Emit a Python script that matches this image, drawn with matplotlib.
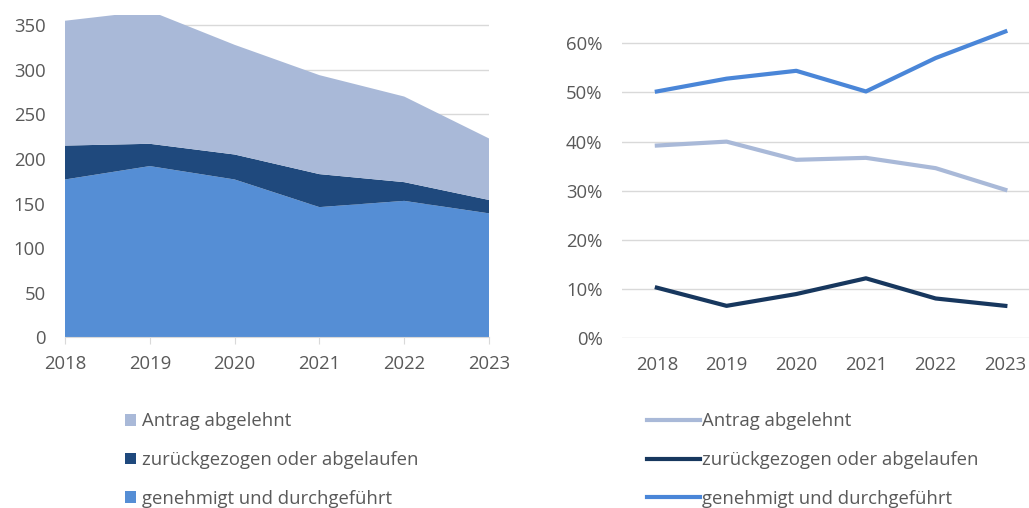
import matplotlib
matplotlib.use('Agg')
import matplotlib.pyplot as plt
from matplotlib.ticker import PercentFormatter

plt.rcParams['font.family'] = ['Open Sans', 'DejaVu Sans']

years = [2018, 2019, 2020, 2021, 2022, 2023]
labels = ['Antrag abgelehnt', 'zurückgezogen oder abgelaufen', 'genehmigt und durchgeführt']

# counts (left chart, stacked)
genehmigt = [177, 192, 177, 146, 153, 139]
zurueck = [38, 25, 28, 37, 21, 15]
abgelehnt = [140, 149, 123, 111, 96, 69]

# shares (right chart)
share_abgelehnt = [0.392, 0.400, 0.363, 0.367, 0.346, 0.302]
share_zurueck = [0.103, 0.066, 0.090, 0.122, 0.081, 0.066]
share_genehmigt = [0.502, 0.528, 0.544, 0.502, 0.570, 0.624]

area_colors = ['#558ED5', '#1F497D', '#A9B9D8']
line_colors = {'abg': '#A9B9D8', 'zur': '#17375E', 'gen': '#4A86D8'}
grid_c = '#D9D9D9'
text_c = '#595959'
fs = 13.3

fig = plt.figure(figsize=(10.29, 5.08), dpi=100)

# left: stacked area
ax1 = fig.add_axes([65 / 1029, 1 - 337.3 / 508, (489 - 65) / 1029, (337.3 - 14.5) / 508])
ax1.stackplot(years, genehmigt, zurueck, abgelehnt, colors=area_colors,
              labels=labels[::-1], zorder=2)
ax1.set_xlim(2018, 2023)
ax1.set_ylim(0, 362)
ax1.set_yticks(range(0, 351, 50))
ax1.set_xticks(years)
ax1.grid(axis='y', color=grid_c, lw=1, zorder=0)
ax1.set_axisbelow(True)
for s in ['top', 'right', 'left']:
    ax1.spines[s].set_visible(False)
ax1.spines['bottom'].set_color(grid_c)
ax1.tick_params(axis='y', length=0, pad=14, labelsize=fs, labelcolor=text_c)
ax1.tick_params(axis='x', length=5, color=grid_c, pad=8, labelsize=fs, labelcolor=text_c)

h, l = ax1.get_legend_handles_labels()
fig.legend(h[::-1], l[::-1], loc='upper left', bbox_to_anchor=(118 / 1029, 1 - 405 / 508),
           frameon=False, fontsize=fs, labelcolor=text_c, handlelength=0.6,
           handleheight=0.6, handletextpad=0.3, labelspacing=1.12, borderaxespad=0)

# right: shares
ax2 = fig.add_axes([622 / 1029, 1 - 338.3 / 508, (1029 - 622) / 1029, 338.3 / 508])
ax2.plot(years, share_abgelehnt, color=line_colors['abg'], lw=3, label=labels[0],
         solid_joinstyle='round')
ax2.plot(years, share_zurueck, color=line_colors['zur'], lw=3, label=labels[1],
         solid_joinstyle='round')
ax2.plot(years, share_genehmigt, color=line_colors['gen'], lw=3, label=labels[2],
         solid_joinstyle='round')
ax2.set_xlim(2017.5, 2017.5 + (1029 - 622) / 69.7)
ax2.set_ylim(0, 0.688)
ax2.set_yticks([0, 0.1, 0.2, 0.3, 0.4, 0.5, 0.6])
ax2.yaxis.set_major_formatter(PercentFormatter(1.0, decimals=0))
ax2.set_xticks(years)
ax2.grid(axis='y', color=grid_c, lw=1)
ax2.set_axisbelow(True)
for s in ax2.spines.values():
    s.set_visible(False)
ax2.tick_params(axis='y', length=0, pad=14, labelsize=fs, labelcolor=text_c)
ax2.tick_params(axis='x', length=0, pad=13, labelsize=fs, labelcolor=text_c)

fig.legend(*ax2.get_legend_handles_labels(), loc='upper left',
           bbox_to_anchor=(640 / 1029, 1 - 405 / 508), frameon=False, fontsize=fs,
           labelcolor=text_c, handlelength=2.85, handletextpad=0.12,
           labelspacing=1.12, borderaxespad=0)

fig.savefig('out.png', dpi=100)
